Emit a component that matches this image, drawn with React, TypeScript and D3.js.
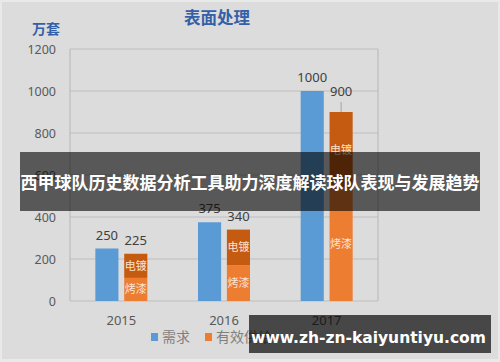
import React from "react";
import * as d3 from "d3";

const years = ["2015", "2016", "2017"];
const seriesNames = ["需求", "有效供给"];
const demand = [250, 375, 1000];
const supply = [225, 340, 900];
const paint = [110, 170, 540]; // 烤漆
const plating = [115, 170, 360]; // 电镀
const yTicks = [0, 200, 400, 600, 800, 1000, 1200];
const title = "表面处理";
const unit = "万套";
const banner = "西甲球队历史数据分析工具助力深度解读球队表现与发展趋势";
const watermark = "www.zh-zn-kaiyuntiyu.com";

const W = 500;
const H = 362;
const BLUE = "#5b9bd5";
const ORANGE = "#ed7d31";
const BROWN = "#c55a11";
const FONT = "'Noto Sans', 'Noto Sans CJK SC', sans-serif";
const CJK = "'Noto Sans CJK SC', sans-serif";

export default function App() {
  const left = 70, right = 378, top = 49, bottom = 301;
  const x = d3.scaleBand<string>().domain(years).range([left, right]).padding(0);
  const y = d3.scaleLinear().domain([0, 1200]).range([bottom, top]);
  const groupHalf = 26;
  const inner = (c: string) =>
    d3.scaleBand<string>().domain(seriesNames)
      .range([x(c)! + x.bandwidth() / 2 - groupHalf, x(c)! + x.bandwidth() / 2 + groupHalf])
      .paddingInner(0.2).paddingOuter(0);

  return (
    <svg width={W} height={H} style={{ position: "absolute", left: 0, top: 0, display: "block" }}>
      <rect x={0} y={0} width={W} height={H} fill="#e9e9e9" />
      <rect x={2} y={2} width={W - 4} height={H - 5} fill="#dcdcdc" />

      {/* title */}
      <text x={217} y={24} textAnchor="middle" fontFamily={CJK} fontWeight={700} fontSize={16.5} fill="#3360a9">{title}</text>
      <text x={46} y={34} textAnchor="middle" fontFamily={CJK} fontWeight={700} fontSize={14} fill="#3360a9">{unit}</text>

      {/* grid */}
      {yTicks.map((t) => (
        <g key={t}>
          <line x1={left} x2={right} y1={y(t)} y2={y(t)} stroke="#bdbdbd" strokeWidth={1.2} />
          <text x={56} y={y(t) + 4.5} textAnchor="end" fontFamily={FONT} fontSize={12.5} fill="#595959">{t}</text>
        </g>
      ))}
      <line x1={left} x2={left} y1={top} y2={bottom} stroke="#bdbdbd" strokeWidth={1.2} />
      <line x1={right} x2={right} y1={top} y2={bottom} stroke="#bdbdbd" strokeWidth={1.2} />

      {/* bars */}
      {years.map((c, i) => {
        const s = inner(c);
        const bw = s.bandwidth();
        const bx = s("需求")!;
        const ox = s("有效供给")!;
        const leader = i === years.length - 1;
        const supLabelY = leader ? y(supply[i]) - 16 : y(supply[i]) - 9;
        return (
          <g key={c}>
            <rect x={bx} y={y(demand[i])} width={bw} height={y(0) - y(demand[i])} fill={BLUE} />
            <rect x={ox} y={y(paint[i])} width={bw} height={y(0) - y(paint[i])} fill={ORANGE} />
            <rect x={ox} y={y(paint[i] + plating[i])} width={bw} height={y(paint[i]) - y(paint[i] + plating[i])} fill={BROWN} />
            <text x={ox + bw / 2} y={(y(0) + y(paint[i])) / 2 + 4} textAnchor="middle" fontFamily={CJK} fontSize={11} fill="#fbe3d2">烤漆</text>
            <text x={ox + bw / 2} y={(y(paint[i]) + y(paint[i] + plating[i])) / 2 + 4} textAnchor="middle" fontFamily={CJK} fontSize={11} fill="#fbe3d2">电镀</text>
            <text x={bx + bw / 2} y={y(demand[i]) - 9} textAnchor="middle" fontFamily={FONT} fontSize={13} fill="#404040">{demand[i]}</text>
            <text x={ox + bw / 2} y={supLabelY} textAnchor="middle" fontFamily={FONT} fontSize={13} fill="#404040">{supply[i]}</text>
            {leader && (
              <line x1={ox + bw / 2} x2={ox + bw / 2} y1={y(supply[i]) - 10} y2={y(supply[i])} stroke="#a6a6a6" strokeWidth={1} />
            )}
            <text x={x(c)! + x.bandwidth() / 2} y={325} textAnchor="middle" fontFamily={FONT} fontSize={13} fill="#595959">{c}</text>
          </g>
        );
      })}

      {/* legend */}
      <rect x={151} y={333} width={7} height={8} fill={BLUE} />
      <text x={162} y={342} fontFamily={CJK} fontSize={14} fill="#7f7f7f">{seriesNames[0]}</text>
      <rect x={205} y={333} width={7} height={8} fill={ORANGE} />
      <text x={216} y={342} fontFamily={CJK} fontSize={14} fill="#7f7f7f">{seriesNames[1]}</text>

      {/* banner overlay */}
      <rect x={20} y={152} width={460} height={59} fill="rgba(0,0,0,0.6)" />
      <text x={250} y={189} textAnchor="middle" fontFamily={CJK} fontWeight={700} fontSize={17} fill="#ffffff">{banner}</text>

      {/* watermark */}
      <rect x={249} y={315} width={242} height={38} fill="rgba(0,0,0,0.68)" />
      <text x={368.5} y={343} textAnchor="middle" fontFamily="'DejaVu Sans', sans-serif" fontWeight={700} fontSize={15.5} fill="#ffffff">{watermark}</text>
    </svg>
  );
}
